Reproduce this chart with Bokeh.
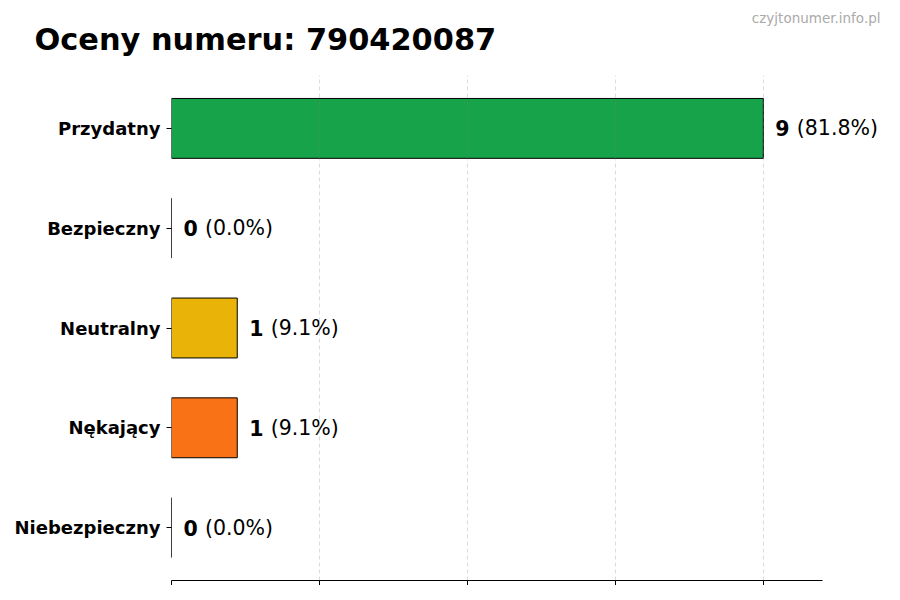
from bokeh.plotting import figure
from bokeh.models import FactorRange, Range1d, FixedTicker, Title, ColumnDataSource
from bokeh.embed import file_html
from bokeh.resources import INLINE
from bokeh.core.properties import value

title_text = "Oceny numeru: 790420087"
watermark = "czyjtonumer.info.pl"
categories = ["Przydatny", "Bezpieczny", "Neutralny", "Nękający", "Niebezpieczny"]
counts = [9, 0, 1, 1, 0]
percents = ["(81.8%)", "(0.0%)", "(9.1%)", "(9.1%)", "(0.0%)"]
colors = ["#16a34a", "#3b82f6", "#eab308", "#f97316", "#dc2626"]
x_ticks = [0, 2.25, 4.5, 6.75, 9]
x_max = 9.9

FONT = "DejaVu Sans"

src = ColumnDataSource(dict(
    cat=categories,
    cnt=counts,
    cnt_txt=[str(c) for c in counts],
    pct=percents,
    color=colors,
))

AXIS_W = 651      # pixel length of the drawn x axis
FRAME_W = 729     # frame extends to the right edge so value labels are not clipped
TOP = 75          # space above the plot area

p = figure(
    y_range=FactorRange(factors=categories[::-1], range_padding=0.03, range_padding_units="absolute"),
    x_range=Range1d(0, x_max * FRAME_W / AXIS_W),
    frame_width=FRAME_W, frame_height=505,
    min_border_left=171, min_border_top=TOP, min_border_right=0, min_border_bottom=4,
    output_backend="svg", toolbar_location=None,
)
p.outline_line_color = None
p.background_fill_color = "white"
p.border_fill_color = "white"

p.hbar(y="cat", left=0, right="cnt", height=0.6, source=src,
       fill_color="color", line_color="black", line_width=1)

p.text(x="cnt", y="cat", text="cnt_txt", source=src, x_offset=12,
       text_font=value(FONT), text_font_style="bold", text_font_size="20.5px",
       text_baseline="middle", text_align="left", text_color="black")
p.text(x="cnt", y="cat", text="pct", source=src, x_offset=33.5,
       text_font=value(FONT), text_font_size="20.5px",
       text_baseline="middle", text_align="left", text_color="black")

# bottom x axis
xa = p.below[0]
xa.ticker = FixedTicker(ticks=x_ticks)
xa.bounds = (0, x_max)
xa.major_label_overrides = {t: "" for t in x_ticks}
xa.major_label_standoff = 0
xa.axis_line_color = "black"
xa.axis_line_width = 1
xa.major_tick_line_color = "black"
xa.major_tick_out = 5
xa.major_tick_in = 0
xa.minor_tick_line_color = None

# y axis
ya = p.left[0]
ya.axis_line_color = None
ya.major_tick_line_color = "black"
ya.major_tick_out = 5
ya.major_tick_in = 0
ya.minor_tick_line_color = None
ya.major_label_text_font = FONT
ya.major_label_text_font_style = "bold"
ya.major_label_text_font_size = "18px"
ya.major_label_text_color = "black"
ya.major_label_standoff = 6

# grid
p.ygrid.grid_line_color = None
p.xgrid.ticker = FixedTicker(ticks=x_ticks)
p.xgrid.grid_line_color = "#808080"
p.xgrid.grid_line_alpha = 0.35
p.xgrid.grid_line_dash = "4 3"
p.xgrid.grid_line_width = 0.8
p.xgrid.level = "overlay"

# main title: panel next to the plot, filling the header band
main_title = Title(text=title_text, align="left", offset=-137, text_font=FONT,
                   text_font_size="30.4px", text_font_style="bold", text_color="black",
                   vertical_align="bottom", standoff=37)
p.add_layout(main_title, "above")

# watermark (outermost, drawn down into the band at top right)
p.title.text = watermark
p.title.align = "right"
p.title.offset = 20
p.title.text_font = FONT
p.title.text_font_size = "13.5px"
p.title.text_font_style = "normal"
p.title.text_color = "#aaaaaa"
p.title.vertical_align = "bottom"
p.title.standoff = -49

open("out.html", "w").write(file_html(p, INLINE))
